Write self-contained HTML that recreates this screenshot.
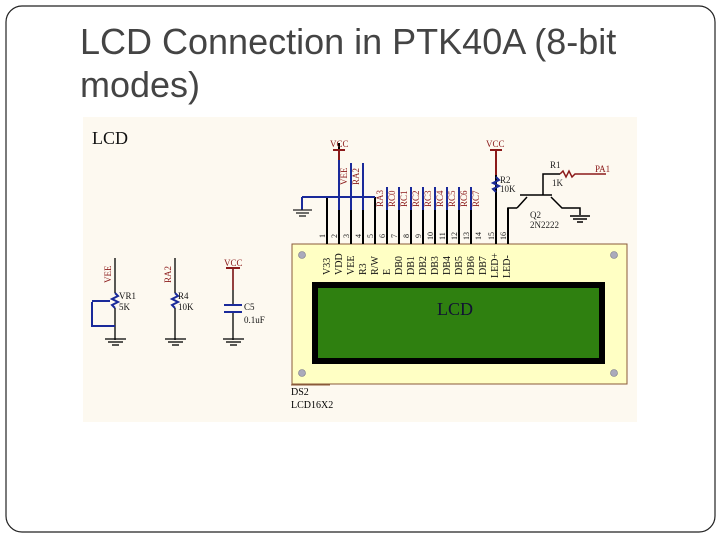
<!DOCTYPE html>
<html><head><style>
body{margin:0;width:720px;height:540px;background:#fff;overflow:hidden;font-family:"Liberation Sans",sans-serif}
</style></head><body>
<svg width="720" height="540" xmlns="http://www.w3.org/2000/svg" style="position:absolute;left:0;top:0">
<rect x="6" y="6" width="709" height="526" rx="16" fill="#fff" stroke="#222" stroke-width="1.2"/>
<text x="80" y="54" font-size="36" fill="#444" font-family="Liberation Sans">LCD Connection in PTK40A (8-bit</text>
<text x="80" y="97" font-size="36" fill="#444" font-family="Liberation Sans">modes)</text>
<rect x="83" y="117" width="554" height="305" fill="#fdf9f0"/>
<g font-family="Liberation Serif" fill="#111">
<text x="92" y="144" font-size="18">LCD</text>
</g>
<rect x="292" y="244" width="335" height="140" fill="#ffffc4" stroke="#8a5a3a" stroke-width="1"/>
<rect x="315" y="285" width="287" height="76" fill="#2f8010" stroke="#000" stroke-width="6"/>
<text x="455" y="315" font-size="18" font-family="Liberation Serif" fill="#113" text-anchor="middle">LCD</text>
<g fill="#aab" stroke="#778" stroke-width="0.6">
<circle cx="302" cy="255" r="3.5"/><circle cx="614" cy="255" r="3.5"/>
<circle cx="302" cy="373" r="3.5"/><circle cx="614" cy="373" r="3.5"/>
</g>
<line x1="291" y1="385" x2="330" y2="385" stroke="#8a5a3a"/>
<text x="291" y="395" font-size="10" font-family="Liberation Serif">DS2</text>
<text x="291" y="408" font-size="10" font-family="Liberation Serif">LCD16X2</text>
<g stroke="#000" stroke-width="2">
<line x1="327" y1="197" x2="327" y2="244"/>
<line x1="339" y1="143" x2="339" y2="244"/>
<line x1="351" y1="163" x2="351" y2="244"/>
<line x1="363" y1="163" x2="363" y2="244"/>
<line x1="375" y1="197" x2="375" y2="244"/>
<line x1="387" y1="187" x2="387" y2="244"/>
<line x1="399" y1="187" x2="399" y2="244"/>
<line x1="411" y1="187" x2="411" y2="244"/>
<line x1="423" y1="187" x2="423" y2="244"/>
<line x1="435" y1="187" x2="435" y2="244"/>
<line x1="447" y1="187" x2="447" y2="244"/>
<line x1="459" y1="187" x2="459" y2="244"/>
<line x1="471" y1="187" x2="471" y2="244"/>
<line x1="496" y1="150" x2="496" y2="244"/>
<line x1="508" y1="208" x2="508" y2="244"/>
</g>
<g stroke="#1a2a9a" stroke-width="2">
<line x1="339" y1="160" x2="339" y2="210"/>
<line x1="351" y1="163" x2="351" y2="210"/>
<line x1="363" y1="163" x2="363" y2="210"/>
<line x1="387" y1="187" x2="387" y2="210"/><line x1="399" y1="187" x2="399" y2="210"/>
<line x1="411" y1="187" x2="411" y2="210"/><line x1="423" y1="187" x2="423" y2="210"/>
<line x1="435" y1="187" x2="435" y2="210"/><line x1="447" y1="187" x2="447" y2="210"/>
<line x1="459" y1="187" x2="459" y2="210"/><line x1="471" y1="187" x2="471" y2="210"/>
<line x1="302" y1="197" x2="375" y2="197"/>
<line x1="302" y1="197" x2="302" y2="210"/>
</g>
<g stroke="#222" stroke-width="1.3"><line x1="293" y1="210" x2="312" y2="210"/><line x1="296" y1="213" x2="309" y2="213"/><line x1="299" y1="216" x2="306" y2="216"/></g>
<line x1="496" y1="150" x2="496" y2="175" stroke="#8b1a1a" stroke-width="2"/>
<line x1="339" y1="150" x2="339" y2="160" stroke="#8b1a1a" stroke-width="2"/>
<line x1="333" y1="150" x2="345" y2="150" stroke="#8b1a1a" stroke-width="2"/>
<line x1="490" y1="150" x2="502" y2="150" stroke="#8b1a1a" stroke-width="2"/>
<path d="M496 177 l3 3 -6 3 6 3 -6 3 3 3" fill="none" stroke="#1a2a9a" stroke-width="2"/>
<g font-family="Liberation Serif" font-size="9" fill="#8b1a1a">
<text x="330" y="147">VCC</text><text x="486" y="147">VCC</text>
<text x="500" y="183" fill="#222">R2</text><text x="500" y="192" fill="#222">10K</text>
<text x="550" y="168" fill="#222">R1</text><text x="552" y="186" fill="#222">1K</text>
<text x="595" y="172">PA1</text>
<text x="530" y="218" fill="#222">Q2</text><text x="530" y="228" fill="#222">2N2222</text>
</g>
<g stroke="#000" stroke-width="1.5" fill="none">
<path d="M508 244 V208 H517"/>
<line x1="520" y1="195" x2="552" y2="195"/>
<path d="M517 208 L527 197"/>
<path d="M551 197 L562 208 H580 V215"/>
<path d="M543 195 V174 H560"/>
<path d="M560 174 l3 -3 3 6 3 -6 3 6 3 -3 H606" stroke="#8b1a1a"/>
<line x1="570" y1="216" x2="590" y2="216"/><line x1="573" y1="219" x2="587" y2="219"/><line x1="577" y1="222" x2="583" y2="222"/>
</g>
<g font-family="Liberation Serif" font-size="9" fill="#8b1a1a">
<text transform="translate(347,185) rotate(-90)">VEE</text>
<text transform="translate(359,185) rotate(-90)">RA2</text>
<text transform="translate(383,207) rotate(-90)">RA3</text>
<text transform="translate(395,207) rotate(-90)">RC0</text>
<text transform="translate(407,207) rotate(-90)">RC1</text>
<text transform="translate(419,207) rotate(-90)">RC2</text>
<text transform="translate(431,207) rotate(-90)">RC3</text>
<text transform="translate(443,207) rotate(-90)">RC4</text>
<text transform="translate(455,207) rotate(-90)">RC5</text>
<text transform="translate(467,207) rotate(-90)">RC6</text>
<text transform="translate(479,207) rotate(-90)">RC7</text>
</g>
<g font-family="Liberation Serif" font-size="8" fill="#111">
<text transform="translate(325,238) rotate(-90)">1</text><text transform="translate(337,238) rotate(-90)">2</text>
<text transform="translate(349,238) rotate(-90)">3</text><text transform="translate(361,238) rotate(-90)">4</text>
<text transform="translate(373,238) rotate(-90)">5</text><text transform="translate(385,238) rotate(-90)">6</text>
<text transform="translate(397,238) rotate(-90)">7</text><text transform="translate(409,238) rotate(-90)">8</text>
<text transform="translate(421,238) rotate(-90)">9</text><text transform="translate(433,240) rotate(-90)">10</text>
<text transform="translate(445,240) rotate(-90)">11</text><text transform="translate(457,240) rotate(-90)">12</text>
<text transform="translate(469,240) rotate(-90)">13</text><text transform="translate(481,240) rotate(-90)">14</text>
<text transform="translate(494,240) rotate(-90)">15</text><text transform="translate(506,240) rotate(-90)">16</text>
</g>
<g font-family="Liberation Serif" font-size="10" fill="#111">
<text transform="translate(330,275) rotate(-90)">V33</text><text transform="translate(342,275) rotate(-90)">VDD</text>
<text transform="translate(354,275) rotate(-90)">VEE</text><text transform="translate(366,275) rotate(-90)">R3</text>
<text transform="translate(378,275) rotate(-90)">R/W</text><text transform="translate(390,275) rotate(-90)">E</text>
<text transform="translate(402,275) rotate(-90)">DB0</text><text transform="translate(414,275) rotate(-90)">DB1</text>
<text transform="translate(426,275) rotate(-90)">DB2</text><text transform="translate(438,275) rotate(-90)">DB3</text>
<text transform="translate(450,275) rotate(-90)">DB4</text><text transform="translate(462,275) rotate(-90)">DB5</text>
<text transform="translate(474,275) rotate(-90)">DB6</text><text transform="translate(486,275) rotate(-90)">DB7</text>
<text transform="translate(498,278) rotate(-90)">LED+</text><text transform="translate(510,278) rotate(-90)">LED-</text>
</g>
<g stroke="#000" stroke-width="1.3" fill="none">
<line x1="115" y1="258" x2="115" y2="293"/><line x1="115" y1="308" x2="115" y2="340"/>
<line x1="175" y1="258" x2="175" y2="293"/><line x1="175" y1="308" x2="175" y2="340"/>
<line x1="233" y1="268" x2="233" y2="305"/><line x1="233" y1="313" x2="233" y2="340"/>
<line x1="105" y1="339" x2="126" y2="339"/><line x1="108" y1="342" x2="123" y2="342"/><line x1="112" y1="345" x2="119" y2="345"/>
<line x1="165" y1="339" x2="186" y2="339"/><line x1="168" y1="342" x2="183" y2="342"/><line x1="172" y1="345" x2="179" y2="345"/>
<line x1="223" y1="339" x2="244" y2="339"/><line x1="226" y1="342" x2="241" y2="342"/><line x1="230" y1="345" x2="237" y2="345"/>
</g>
<path d="M92 302 V326 H115" fill="none" stroke="#1a2a9a" stroke-width="2"/>
<line x1="226" y1="268" x2="240" y2="268" stroke="#8b1a1a" stroke-width="2"/>
<line x1="233" y1="268" x2="233" y2="290" stroke="#8b1a1a" stroke-width="1.5"/>
<g stroke="#1a2a9a" stroke-width="2" fill="none">
<path d="M115 293 l3 3 -6 3 6 3 -6 3 3 3"/>
<path d="M175 293 l3 3 -6 3 6 3 -6 3 3 3"/>
<line x1="224" y1="305" x2="242" y2="305"/><line x1="224" y1="312" x2="242" y2="312"/>
<line x1="92" y1="301" x2="110" y2="301"/>
</g>
<g font-family="Liberation Serif" font-size="9" fill="#111">
<text transform="translate(111,283) rotate(-90)" fill="#8b1a1a">VEE</text>
<text transform="translate(171,283) rotate(-90)" fill="#8b1a1a">RA2</text>
<text x="224" y="266" fill="#8b1a1a">VCC</text>
<text x="119" y="299">VR1</text><text x="119" y="310">5K</text>
<text x="178" y="299">R4</text><text x="178" y="310">10K</text>
<text x="244" y="310">C5</text><text x="244" y="323">0.1uF</text>
</g>
</svg>
</body></html>
